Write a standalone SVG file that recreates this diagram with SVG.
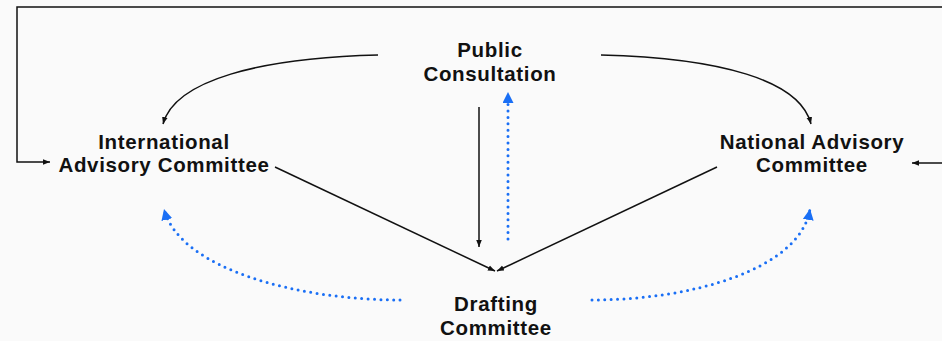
<svg xmlns="http://www.w3.org/2000/svg" width="942" height="341" viewBox="0 0 942 341">
<defs>
<style>
.lbl{font-family:"Liberation Sans",Arial,sans-serif;font-weight:bold;font-size:20.5px;letter-spacing:0.65px;fill:#111;text-anchor:middle}
.k{fill:none;stroke:#111;stroke-width:1.5}
.b{fill:none;stroke:#1a6ff5;stroke-width:3;stroke-linecap:round;stroke-dasharray:0 6.4}
</style>
<marker id="ak" viewBox="0 0 10 10" refX="10" refY="5" markerWidth="7" markerHeight="7" markerUnits="userSpaceOnUse" orient="auto"><path d="M0,1 L10,5 L0,9 Z" fill="#111"/></marker>
<marker id="ab" viewBox="0 0 10 10" refX="10" refY="5" markerWidth="11" markerHeight="11" markerUnits="userSpaceOnUse" orient="auto"><path d="M0,0 L10,5 L0,10 Z" fill="#1a6ff5"/></marker>
</defs>
<rect width="942" height="341" fill="#fafafa"/>
<g id="connectors">
<path class="k" d="M950 7 L17 7 L17 162 L50 162" marker-end="url(#ak)"/>
<path class="k" d="M950 163 L912 163" marker-end="url(#ak)"/>
<path class="k" d="M378 55 C260 58,175 80,163 124" marker-end="url(#ak)"/>
<path class="k" d="M601 55 C720 58,800 80,811 124" marker-end="url(#ak)"/>
<path class="k" d="M479 107 L479 247" marker-end="url(#ak)"/>
<path class="k" d="M275 167 L495 271" marker-end="url(#ak)"/>
<path class="k" d="M717 167 L497 271" marker-end="url(#ak)"/>
<path class="b" d="M508 239 L508 92" marker-end="url(#ab)"/>
<path class="b" d="M400 300 C300 300,180 270,164 209" marker-end="url(#ab)"/>
<path class="b" d="M592 300 C690 300,800 270,810 209" marker-end="url(#ab)"/>
</g>
<g id="public-consultation">
<text class="lbl" x="490" y="57">Public</text>
<text class="lbl" x="490" y="81">Consultation</text>
</g>
<g id="international-advisory-committee">
<text class="lbl" x="164" y="149">International</text>
<text class="lbl" x="164" y="172">Advisory Committee</text>
</g>
<g id="national-advisory-committee">
<text class="lbl" x="812" y="149">National Advisory</text>
<text class="lbl" x="812" y="172">Committee</text>
</g>
<g id="drafting-committee">
<text class="lbl" x="496" y="311">Drafting</text>
<text class="lbl" x="496" y="335">Committee</text>
</g>
</svg>
